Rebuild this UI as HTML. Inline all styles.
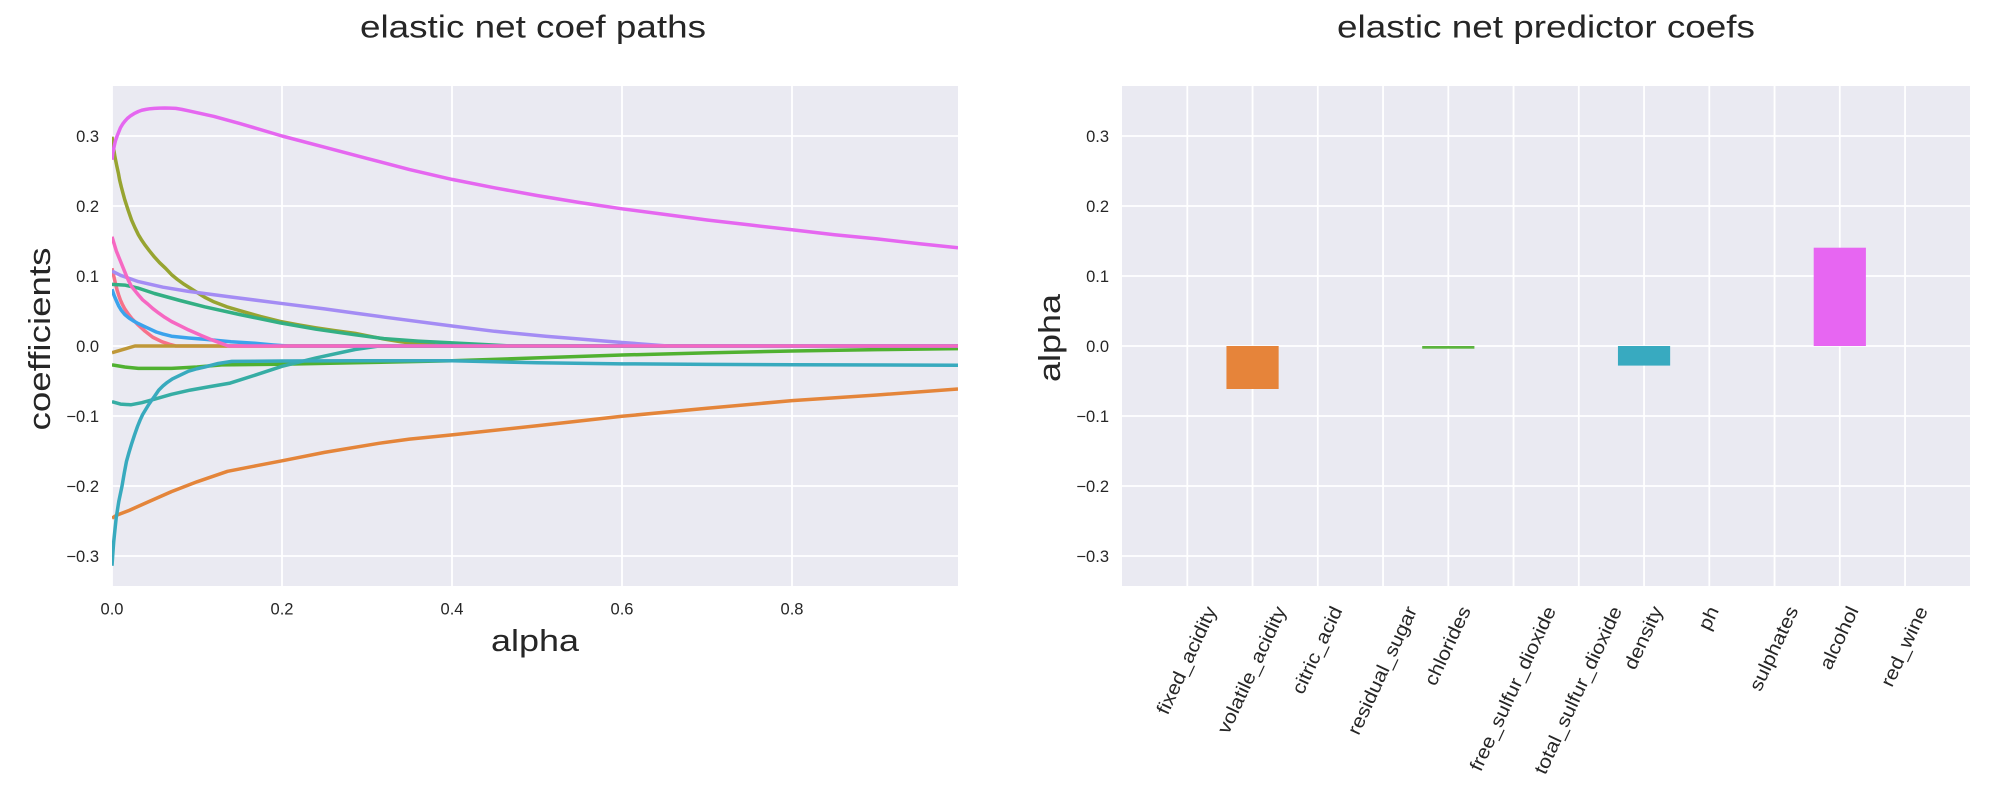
<!DOCTYPE html>
<html>
<head>
<meta charset="utf-8">
<style>
  html, body { margin: 0; padding: 0; background: #ffffff; }
  svg { display: block; }
  text { font-family: "Liberation Sans", Arial, sans-serif; fill: #262626; }
</style>
</head>
<body>
<svg width="2004" height="788" viewBox="0 0 2004 788" xmlns="http://www.w3.org/2000/svg">
  <defs>
    <clipPath id="clipL"><rect x="112" y="86" width="846" height="500"/></clipPath>
    <clipPath id="clipR"><rect x="1122" y="86" width="848" height="500"/></clipPath>
  </defs>
  <rect x="0" y="0" width="2004" height="788" fill="#ffffff"/>

  <!-- ============ LEFT AXES ============ -->
  <rect x="112" y="86" width="846" height="500" fill="#eaeaf2"/>
  <g stroke="#ffffff" stroke-width="1.8" clip-path="url(#clipL)">
    <line x1="112" y1="136" x2="958" y2="136"/>
    <line x1="112" y1="206" x2="958" y2="206"/>
    <line x1="112" y1="276" x2="958" y2="276"/>
    <line x1="112" y1="346" x2="958" y2="346"/>
    <line x1="112" y1="416" x2="958" y2="416"/>
    <line x1="112" y1="486" x2="958" y2="486"/>
    <line x1="112" y1="556" x2="958" y2="556"/>
    <line x1="112" y1="86" x2="112" y2="586"/>
    <line x1="282" y1="86" x2="282" y2="586"/>
    <line x1="452" y1="86" x2="452" y2="586"/>
    <line x1="622" y1="86" x2="622" y2="586"/>
    <line x1="792" y1="86" x2="792" y2="586"/>
  </g>

  <g clip-path="url(#clipL)">
    <g transform="translate(112,346) scale(850,-700)" fill="none" stroke-width="3.5" stroke-linejoin="round" stroke-linecap="butt">
      <!-- 0 fixed_acidity -->
      <polyline vector-effect="non-scaling-stroke" stroke="#f77189" points="0,0.111 0.0015,0.103 0.003,0.095 0.0045,0.087 0.006,0.08 0.0078,0.073 0.0098,0.066 0.012,0.06 0.015,0.053 0.019,0.046 0.0235,0.039 0.03,0.031 0.039,0.021 0.048,0.0125 0.059,0.006 0.069,0.002 0.075,0 0.9953,0"/>
      <!-- 1 volatile_acidity -->
      <polyline vector-effect="non-scaling-stroke" stroke="#e4853a" points="0,-0.246 0.005,-0.242 0.02,-0.235 0.042,-0.223 0.07,-0.208 0.1,-0.194 0.136,-0.179 0.17,-0.171 0.2,-0.164 0.25,-0.152 0.314,-0.139 0.35,-0.133 0.4,-0.127 0.5,-0.114 0.6,-0.1004 0.7,-0.089 0.8,-0.078 0.9,-0.07 0.9953,-0.0614"/>
      <!-- 2 citric_acid -->
      <polyline vector-effect="non-scaling-stroke" stroke="#bf9838" points="0,-0.0095 0.027,0 0.9953,0"/>
      <!-- 3 residual_sugar -->
      <polyline vector-effect="non-scaling-stroke" stroke="#97a431" points="0,0.299 0.0015,0.285 0.0035,0.27 0.0055,0.258 0.0075,0.247 0.009,0.237 0.011,0.227 0.013,0.218 0.015,0.209 0.019,0.194 0.023,0.18 0.027,0.169 0.031,0.159 0.035,0.151 0.039,0.144 0.044,0.136 0.05,0.127 0.056,0.119 0.063,0.111 0.07,0.102 0.077,0.095 0.085,0.088 0.098,0.078 0.11,0.069 0.12,0.063 0.135,0.056 0.149,0.051 0.175,0.042 0.198,0.035 0.22,0.03 0.24,0.026 0.262,0.022 0.286,0.018 0.305,0.0135 0.32,0.01 0.34,0.006 0.36,0.003 0.38,0.001 0.4,0 0.9953,0"/>
      <!-- 4 chlorides -->
      <polyline vector-effect="non-scaling-stroke" stroke="#50b131" points="0,-0.027 0.015,-0.030 0.031,-0.032 0.07,-0.032 0.1,-0.03 0.129,-0.027 0.198,-0.026 0.286,-0.024 0.4,-0.021 0.5,-0.017 0.6,-0.0129 0.7,-0.0098 0.8,-0.0071 0.9,-0.0052 0.9953,-0.0038"/>
      <!-- 5 free_sulfur_dioxide -->
      <polyline vector-effect="non-scaling-stroke" stroke="#33af84" points="0,0.088 0.015,0.087 0.03,0.083 0.05,0.075 0.08,0.065 0.109,0.056 0.15,0.045 0.198,0.033 0.24,0.024 0.286,0.016 0.32,0.0105 0.36,0.007 0.4,0.0045 0.44,0.002 0.47,0 0.9953,0"/>
      <!-- 6 total_sulfur_dioxide -->
      <polyline vector-effect="non-scaling-stroke" stroke="#36ada4" points="0,-0.0795 0.01,-0.083 0.022,-0.084 0.035,-0.081 0.05,-0.076 0.07,-0.069 0.092,-0.063 0.115,-0.058 0.139,-0.053 0.17,-0.041 0.2,-0.029 0.24,-0.017 0.286,-0.005 0.314,0 0.9953,0"/>
      <!-- 7 density -->
      <polyline vector-effect="non-scaling-stroke" stroke="#38aabe" points="0,-0.314 0.001,-0.296 0.002,-0.28 0.0035,-0.262 0.005,-0.245 0.008,-0.222 0.0118,-0.2 0.0145,-0.181 0.017,-0.165 0.02,-0.152 0.023,-0.14 0.0265,-0.127 0.03,-0.115 0.033,-0.106 0.036,-0.098 0.04,-0.09 0.0435,-0.083 0.047,-0.077 0.05,-0.072 0.055,-0.063 0.06,-0.057 0.065,-0.052 0.071,-0.047 0.078,-0.043 0.09,-0.036 0.1,-0.0325 0.109,-0.03 0.125,-0.025 0.141,-0.022 0.2,-0.0215 0.286,-0.021 0.4,-0.021 0.5,-0.024 0.6,-0.0255 0.7,-0.0262 0.8,-0.0267 0.9953,-0.0275"/>
      <!-- 8 ph -->
      <polyline vector-effect="non-scaling-stroke" stroke="#3ba3ec" points="0,0.081 0.0025,0.072 0.005,0.065 0.008,0.057 0.011,0.051 0.015,0.045 0.02,0.04 0.025,0.036 0.031,0.032 0.038,0.028 0.045,0.024 0.052,0.02 0.06,0.017 0.07,0.014 0.09,0.0115 0.109,0.0096 0.14,0.006 0.168,0.004 0.19,0.0015 0.207,0 0.9953,0"/>
      <!-- 9 sulphates -->
      <polyline vector-effect="non-scaling-stroke" stroke="#a48cf4" points="0,0.107 0.01,0.101 0.031,0.092 0.06,0.084 0.09,0.078 0.14,0.07 0.198,0.061 0.25,0.053 0.286,0.047 0.322,0.041 0.4,0.0286 0.45,0.021 0.51,0.014 0.55,0.01 0.6,0.005 0.654,0 0.9953,0"/>
      <!-- 10 alcohol -->
      <polyline vector-effect="non-scaling-stroke" stroke="#e567f0" points="0,0.266 0.001,0.276 0.0025,0.285 0.004,0.293 0.006,0.300 0.008,0.306 0.01,0.312 0.0125,0.317 0.015,0.321 0.018,0.325 0.022,0.329 0.026,0.332 0.031,0.335 0.035,0.3368 0.04,0.338 0.045,0.339 0.05,0.3395 0.056,0.3399 0.062,0.34 0.068,0.3399 0.075,0.3395 0.082,0.338 0.09,0.336 0.12,0.328 0.15,0.318 0.2,0.300 0.25,0.284 0.3,0.268 0.35,0.252 0.4,0.238 0.45,0.226 0.5,0.215 0.55,0.205 0.6,0.196 0.65,0.188 0.7,0.180 0.75,0.173 0.8,0.166 0.85,0.159 0.9,0.153 0.95,0.146 0.9953,0.1404"/>
      <!-- 11 red_wine -->
      <polyline vector-effect="non-scaling-stroke" stroke="#f668c2" points="0,0.156 0.0025,0.146 0.005,0.136 0.008,0.127 0.011,0.118 0.014,0.109 0.017,0.1 0.02,0.092 0.023,0.085 0.027,0.079 0.031,0.073 0.036,0.066 0.042,0.06 0.048,0.0535 0.055,0.047 0.062,0.041 0.07,0.035 0.08,0.029 0.09,0.023 0.105,0.015 0.117,0.009 0.128,0.004 0.137,0 0.9953,0"/>
    </g>
  </g>

  <!-- left y ticks -->
  <g font-size="16.5" text-anchor="end">
    <text x="99" y="142">0.3</text>
    <text x="99" y="212">0.2</text>
    <text x="99" y="282">0.1</text>
    <text x="99" y="352">0.0</text>
    <text x="99" y="422">−0.1</text>
    <text x="99" y="492">−0.2</text>
    <text x="99" y="562">−0.3</text>
  </g>
  <!-- left x ticks -->
  <g font-size="16.5" text-anchor="middle">
    <text x="112" y="614.5">0.0</text>
    <text x="282" y="614.5">0.2</text>
    <text x="452" y="614.5">0.4</text>
    <text x="622" y="614.5">0.6</text>
    <text x="792" y="614.5">0.8</text>
  </g>
  <text x="533" y="37.5" font-size="31.5" text-anchor="middle" textLength="346" lengthAdjust="spacingAndGlyphs">elastic net coef paths</text>
  <text x="535" y="651" font-size="31" text-anchor="middle" textLength="88" lengthAdjust="spacingAndGlyphs">alpha</text>
  <text transform="translate(50,339) rotate(-90)" font-size="31" text-anchor="middle" textLength="183" lengthAdjust="spacingAndGlyphs">coefficients</text>

  <!-- ============ RIGHT AXES ============ -->
  <rect x="1122" y="86" width="848" height="500" fill="#eaeaf2"/>
  <g stroke="#ffffff" stroke-width="1.8" clip-path="url(#clipR)">
    <line x1="1122" y1="136" x2="1970" y2="136"/>
    <line x1="1122" y1="206" x2="1970" y2="206"/>
    <line x1="1122" y1="276" x2="1970" y2="276"/>
    <line x1="1122" y1="346" x2="1970" y2="346"/>
    <line x1="1122" y1="416" x2="1970" y2="416"/>
    <line x1="1122" y1="486" x2="1970" y2="486"/>
    <line x1="1122" y1="556" x2="1970" y2="556"/>
    <line x1="1187.3" y1="86" x2="1187.3" y2="586"/>
    <line x1="1252.55" y1="86" x2="1252.55" y2="586"/>
    <line x1="1317.8" y1="86" x2="1317.8" y2="586"/>
    <line x1="1383.05" y1="86" x2="1383.05" y2="586"/>
    <line x1="1448.3" y1="86" x2="1448.3" y2="586"/>
    <line x1="1513.55" y1="86" x2="1513.55" y2="586"/>
    <line x1="1578.8" y1="86" x2="1578.8" y2="586"/>
    <line x1="1644.05" y1="86" x2="1644.05" y2="586"/>
    <line x1="1709.3" y1="86" x2="1709.3" y2="586"/>
    <line x1="1774.55" y1="86" x2="1774.55" y2="586"/>
    <line x1="1839.8" y1="86" x2="1839.8" y2="586"/>
    <line x1="1905.05" y1="86" x2="1905.05" y2="586"/>
  </g>
  <!-- bars -->
  <rect x="1226.45" y="346" width="52.2" height="43" fill="#e6843a"/>
  <rect x="1422.2" y="346" width="52.2" height="2.7" fill="#5cb43e"/>
  <rect x="1617.95" y="346" width="52.2" height="19.6" fill="#38aac0"/>
  <rect x="1813.7" y="247.7" width="52.2" height="98.3" fill="#e766f2"/>

  <!-- right y ticks -->
  <g font-size="16.5" text-anchor="end">
    <text x="1109" y="142">0.3</text>
    <text x="1109" y="212">0.2</text>
    <text x="1109" y="282">0.1</text>
    <text x="1109" y="352">0.0</text>
    <text x="1109" y="422">−0.1</text>
    <text x="1109" y="492">−0.2</text>
    <text x="1109" y="562">−0.3</text>
  </g>
  <!-- right x tick labels (rotated 65) -->
  <g font-size="19" text-anchor="middle" dominant-baseline="central">
    <text transform="translate(1187.3,660.7) rotate(-65)" textLength="116.6" lengthAdjust="spacingAndGlyphs">fixed_acidity</text>
    <text transform="translate(1252.55,670.3) rotate(-65)" textLength="137.8" lengthAdjust="spacingAndGlyphs">volatile_acidity</text>
    <text transform="translate(1317.8,650.5) rotate(-65)" textLength="94.2" lengthAdjust="spacingAndGlyphs">citric_acid</text>
    <text transform="translate(1383.05,670.8) rotate(-65)" textLength="139" lengthAdjust="spacingAndGlyphs">residual_sugar</text>
    <text transform="translate(1448.3,646.2) rotate(-65)" textLength="84.8" lengthAdjust="spacingAndGlyphs">chlorides</text>
    <text transform="translate(1513.55,689) rotate(-65)" textLength="179.1" lengthAdjust="spacingAndGlyphs">free_sulfur_dioxide</text>
    <text transform="translate(1578.8,690.6) rotate(-65)" textLength="182.6" lengthAdjust="spacingAndGlyphs">total_sulfur_dioxide</text>
    <text transform="translate(1644.05,638.2) rotate(-65)" textLength="67.2" lengthAdjust="spacingAndGlyphs">density</text>
    <text transform="translate(1709.3,618.5) rotate(-65)" textLength="23.6" lengthAdjust="spacingAndGlyphs">ph</text>
    <text transform="translate(1774.55,648.9) rotate(-65)" textLength="90.7" lengthAdjust="spacingAndGlyphs">sulphates</text>
    <text transform="translate(1839.8,638.2) rotate(-65)" textLength="67.2" lengthAdjust="spacingAndGlyphs">alcohol</text>
    <text transform="translate(1905.05,646.8) rotate(-65)" textLength="86" lengthAdjust="spacingAndGlyphs">red_wine</text>
  </g>
  <text x="1546" y="37.5" font-size="31.5" text-anchor="middle" textLength="418" lengthAdjust="spacingAndGlyphs">elastic net predictor coefs</text>
  <text transform="translate(1060,338) rotate(-90)" font-size="31" text-anchor="middle" textLength="88" lengthAdjust="spacingAndGlyphs">alpha</text>
</svg>
</body>
</html>
